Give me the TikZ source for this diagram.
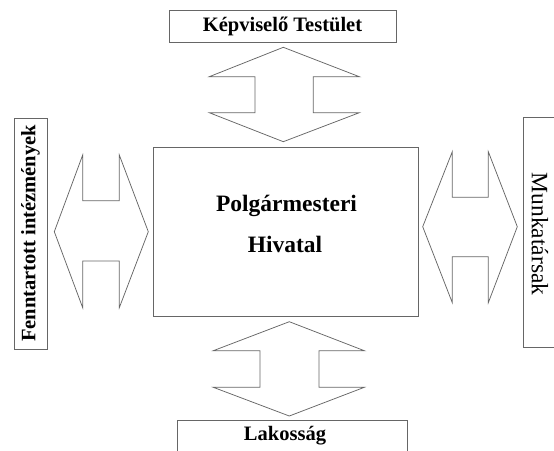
\documentclass[tikz,border=0pt]{standalone}
\usepackage{fontspec}
\setmainfont{Liberation Serif}
\begin{document}
\begin{tikzpicture}[x=1pt,y=-1pt,
  box/.style={draw=black!60, line width=1pt, inner sep=0pt},
  biarrow/.style={draw=black!60, line width=0.75pt, line join=miter},
  lbl/.style={font=\bfseries\fontsize{20.5}{24}\selectfont, inner sep=0pt},
  big/.style={font=\bfseries\fontsize{23.5}{28}\selectfont, inner sep=0pt},
  side/.style={font=\fontsize{23.5}{28}\selectfont, inner sep=0pt}]
\useasboundingbox (0,0) rectangle (554,450);
% boxes
\node[box, lbl, minimum width=227pt, minimum height=32pt] (kt) at (282.5,26) {Képviselő Testület};
\node[box, minimum width=265pt, minimum height=169pt] (ph) at (285.5,231.5) {};
\node[big, anchor=base] (ph1) at (286.5,211.7) {Polgármesteri};
\node[big, anchor=base] (ph2) at (285,252.7) {Hivatal};
\node[box, lbl, rotate=90, minimum width=231pt, minimum height=33pt] (fi) at (30.5,233.5) {Fenntartott intézmények};
\node[box, rotate=90, minimum width=230pt, minimum height=40pt] (mk) at (543,232.5) {};
\node[side, rotate=-90] (mkt) at (540,234) {Munkatársak};
\node[box, minimum width=230pt, minimum height=44pt] (lk) at (292,442) {};
\node[lbl, anchor=base] (lkt) at (285,440.7) {Lakosság};
% block double arrows
\draw[biarrow] (283.3,47.3) -- (359.3,76.7) -- (313.3,76.7) -- (313.3,112.7) -- (359.3,112.7)
  -- (283.3,141.7) -- (209.3,112.7) -- (255,112.7) -- (255,76.7) -- (209.3,76.7) -- cycle;
\draw[biarrow] (289.3,321.7) -- (364.3,350.7) -- (319,350.7) -- (319,387.3) -- (364.3,387.3)
  -- (289.3,416) -- (213.3,387.3) -- (260,387.3) -- (260,350.7) -- (213.3,350.7) -- cycle;
\draw[biarrow] (54.3,231.7) -- (82.7,155) -- (82.7,200.7) -- (119.3,200.7) -- (119.3,155)
  -- (148.3,231.7) -- (119.3,307.7) -- (119.3,261) -- (82.7,261) -- (82.7,307.7) -- cycle;
\draw[biarrow] (422.7,226.7) -- (452.3,151.7) -- (452.3,197.3) -- (488.3,197.3) -- (488.3,151.7)
  -- (517.3,226.7) -- (488.3,302.7) -- (488.3,256.7) -- (452.3,256.7) -- (452.3,302.7) -- cycle;
\end{tikzpicture}
\end{document}
